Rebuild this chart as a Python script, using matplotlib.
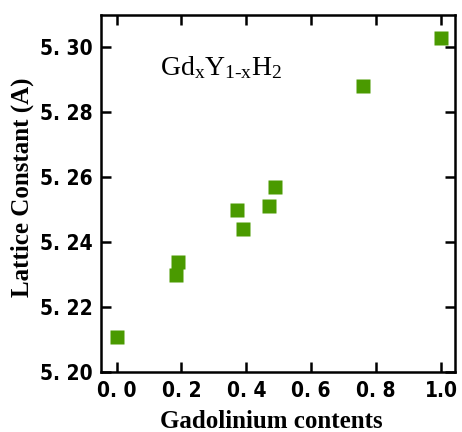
import matplotlib
matplotlib.use("Agg")
import matplotlib.pyplot as plt
from matplotlib.ticker import FixedLocator, FixedFormatter

# data
gd_content = [0.0, 0.182, 0.19, 0.372, 0.39, 0.471, 0.489, 0.76, 1.0]
lattice_const = [5.211, 5.230, 5.234, 5.250, 5.244, 5.251, 5.257, 5.288, 5.3027]

x_ticks = [0.0, 0.2, 0.4, 0.6, 0.8, 1.0]
x_ticklabels = ["0. 0", "0. 2", "0. 4", "0. 6", "0. 8", "1.0"]
y_ticks = [5.20, 5.22, 5.24, 5.26, 5.28, 5.30]
y_ticklabels = ["5. 20", "5. 22", "5. 24", "5. 26", "5. 28", "5. 30"]

serif = "Liberation Serif"

plt.rcParams["mathtext.fontset"] = "custom"
plt.rcParams["mathtext.rm"] = serif
plt.rcParams["mathtext.it"] = serif
plt.rcParams["mathtext.bf"] = serif + ":bold"

fig = plt.figure(figsize=(4.62, 4.32), dpi=100)
ax = fig.add_axes([0.2186, 0.138, 0.7662, 0.827])

ax.plot(gd_content, lattice_const, "s", ms=9.4, color="#4a9a00", mec="none", clip_on=False)

ax.set_xlim(-0.048, 1.043)
ax.set_ylim(5.20, 5.3098)

ax.xaxis.set_major_locator(FixedLocator(x_ticks))
ax.xaxis.set_major_formatter(FixedFormatter(x_ticklabels))
ax.yaxis.set_major_locator(FixedLocator(y_ticks))
ax.yaxis.set_major_formatter(FixedFormatter(y_ticklabels))

ax.tick_params(direction="in", length=7.5, width=1.8, top=True, right=True)
ax.tick_params(axis="x", pad=6)
ax.tick_params(axis="y", pad=6)
for lbl in ax.get_xticklabels() + ax.get_yticklabels():
    lbl.set_fontfamily("DejaVu Sans")
    lbl.set_fontstretch("condensed")
    lbl.set_fontweight("bold")
    lbl.set_fontsize(15)

for s in ax.spines.values():
    s.set_linewidth(1.8)

ax.set_xlabel("Gadolinium contents", fontfamily=serif, fontweight="bold", fontsize=18)
ax.set_ylabel("Lattice Constant (A)", fontfamily=serif, fontweight="bold", fontsize=18)
ax.xaxis.set_label_coords(0.48, -0.105)
ax.yaxis.set_label_coords(-0.19, 0.519)

ax.text(0.134, 5.2914, r"Gd$_\mathrm{x}$Y$_\mathrm{1\text{-}x}$H$_2$", fontfamily=serif, fontsize=20,
        ha="left", va="baseline")

fig.savefig("out.png", dpi=100)
